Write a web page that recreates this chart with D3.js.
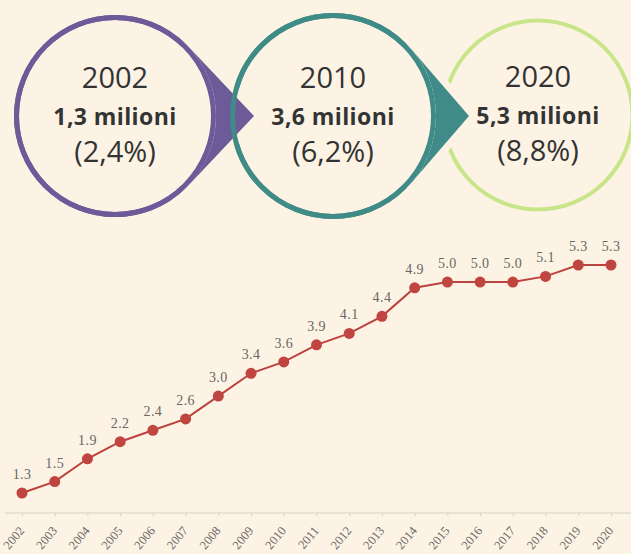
<!DOCTYPE html>
<html>
<head>
<meta charset="utf-8">
<script src="https://cdn.jsdelivr.net/npm/d3@7.9.0/dist/d3.min.js"></script>
<style>
  body { margin: 0; background: #fdf3e4; }
  svg { display: block; }
</style>
</head>
<body>
<svg id="chart" width="631" height="554"></svg>
<script>
const years = [2002, 2003, 2004, 2005, 2006, 2007, 2008, 2009, 2010, 2011,
  2012, 2013, 2014, 2015, 2016, 2017, 2018, 2019, 2020];
const values = [1.3, 1.5, 1.9, 2.2, 2.4, 2.6, 3.0, 3.4, 3.6, 3.9,
  4.1, 4.4, 4.9, 5.0, 5.0, 5.0, 5.1, 5.3, 5.3];

// bubbles on top
const bubbleYears = ["2002", "2010", "2020"];
const bubbleAmounts = ["1,3 milioni", "3,6 milioni", "5,3 milioni"];
const bubbleShares = ["(2,4%)", "(6,2%)", "(8,8%)"];
const bubbleColors = ["#6d5a98", "#3f8b87", "#c9e58a"];

const bg = "#fdf3e4";
const width = 631, height = 554;
const svg = d3.select("#chart");

svg.append("rect").attr("width", width).attr("height", height).attr("fill", bg);

// ---------- BUBBLES ----------
const bubbles = [
  { cx: 115, cy: 116, r: 101, tip: 254 },
  { cx: 333, cy: 116, r: 103, tip: 469 },
  { cx: 538, cy: 115, r: 97, tip: null }
];

const ringW = 5;

// rings first
bubbles.forEach((b, i) => {
  svg.append("circle")
    .attr("cx", b.cx).attr("cy", b.cy).attr("r", b.r - ringW / 2)
    .attr("fill", bg)
    .attr("stroke", bubbleColors[i]).attr("stroke-width", i === 2 ? 4 : ringW);
});

// pointers go over the next ring, with a small gap around them
bubbles.forEach((b, i) => {
  if (!b.tip) return;
  const col = bubbleColors[i];
  const d = b.tip - b.cx;
  const a = Math.acos(b.r / d);
  const p1 = [b.cx + b.r * Math.cos(a), b.cy - b.r * Math.sin(a)];
  const p2 = [b.cx + b.r * Math.cos(a), b.cy + b.r * Math.sin(a)];
  const path = d3.path();
  path.moveTo(p1[0], p1[1]);
  path.lineTo(b.tip, b.cy);
  path.lineTo(p2[0], p2[1]);
  path.arc(b.cx, b.cy, b.r, a, -a, true);
  path.closePath();
  svg.append("path").attr("d", path.toString())
    .attr("fill", bg).attr("stroke", bg).attr("stroke-width", 14)
    .attr("stroke-linejoin", "round");
  svg.append("path").attr("d", path.toString()).attr("fill", col);
  svg.append("circle")
    .attr("cx", b.cx).attr("cy", b.cy).attr("r", b.r - ringW / 2)
    .attr("fill", "none")
    .attr("stroke", col).attr("stroke-width", ringW);
});

bubbles.forEach((b, i) => {
  const g = svg.append("g").attr("font-family", "Open Sans, sans-serif").attr("fill", "#333");
  g.append("text")
    .attr("x", b.cx).attr("y", b.cy - 28)
    .attr("text-anchor", "middle")
    .attr("font-size", 29)
    .text(bubbleYears[i]);
  g.append("text")
    .attr("x", b.cx).attr("y", b.cy + 9)
    .attr("text-anchor", "middle")
    .attr("font-weight", "bold")
    .attr("font-size", 23)
    .attr("letter-spacing", 0.4)
    .text(bubbleAmounts[i]);
  g.append("text")
    .attr("x", b.cx).attr("y", b.cy + 46)
    .attr("text-anchor", "middle")
    .attr("font-size", 29)
    .text(bubbleShares[i]);
});

// ---------- LINE CHART ----------
const x = d3.scalePoint().domain(years).range([22, 611]);
const y = d3.scaleLinear().domain([1.3, 5.3]).range([493, 265]);
const axisY = 513;

const xAxis = svg.append("g")
  .attr("transform", `translate(0,${axisY})`)
  .call(d3.axisBottom(x).tickSize(3).tickFormat(""));
xAxis.select(".domain").attr("d", `M5,0H${width}`).attr("stroke", "#d6cfc2");
xAxis.selectAll(".tick line").attr("stroke", "#d6cfc2");

svg.append("g").selectAll("text")
  .data(years)
  .join("text")
  .attr("transform", d => `translate(${x(d) + 3},${axisY + 18}) rotate(-50)`)
  .attr("text-anchor", "end")
  .attr("font-family", "Liberation Serif, serif")
  .attr("font-size", 12.5)
  .attr("fill", "#666")
  .text(d => d);

const data = years.map((yr, i) => ({ year: yr, value: values[i] }));

svg.append("path")
  .datum(data)
  .attr("fill", "none")
  .attr("stroke", "#bb423f")
  .attr("stroke-width", 2)
  .attr("d", d3.line().x(d => x(d.year)).y(d => y(d.value)));

svg.append("g").selectAll("circle")
  .data(data)
  .join("circle")
  .attr("cx", d => x(d.year))
  .attr("cy", d => y(d.value))
  .attr("r", 5.5)
  .attr("fill", "#c0443f");

svg.append("g").selectAll("text")
  .data(data)
  .join("text")
  .attr("x", d => x(d.year))
  .attr("y", d => y(d.value) - 14)
  .attr("text-anchor", "middle")
  .attr("font-family", "Liberation Serif, serif")
  .attr("font-size", 14)
  .attr("letter-spacing", 0.4)
  .attr("fill", "#666")
  .text(d => d.value.toFixed(1));
</script>
</body>
</html>
